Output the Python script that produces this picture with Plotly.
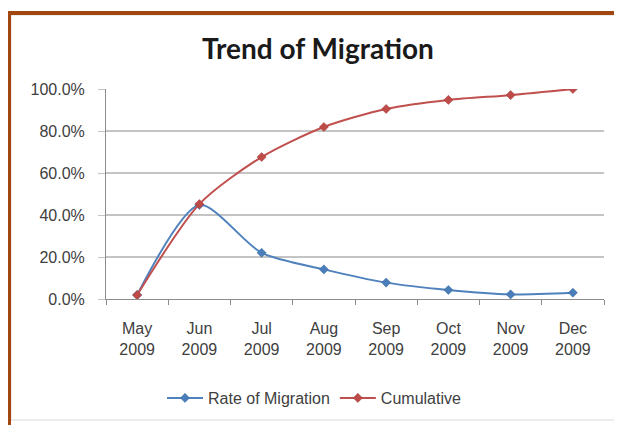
import plotly.graph_objects as go

months = ["May<br>2009", "Jun<br>2009", "Jul<br>2009", "Aug<br>2009",
          "Sep<br>2009", "Oct<br>2009", "Nov<br>2009", "Dec<br>2009"]
rate = [0.019, 0.448, 0.220, 0.141, 0.078, 0.043, 0.022, 0.030]
cumulative = [0.019, 0.452, 0.676, 0.819, 0.905, 0.948, 0.971, 1.000]
y_ticks = [0, 0.2, 0.4, 0.6, 0.8, 1.0]

# page body has an 8px margin, so the figure is shifted by OFF
OFF = 8
W, H = 622 - OFF, 425 - OFF
L, R, T, B = 106 - OFF, 604 - OFF, 89 - OFF, 299 - OFF


def px(x):
    return (x - OFF - L) / (R - L)


def py(y):
    return (B - (y - OFF)) / (B - T)


fig = go.Figure()
fig.add_trace(go.Scatter(
    x=months, y=rate, name="Rate of Migration", mode="lines+markers",
    line=dict(color="#4F81BD", width=2, shape="spline", smoothing=0.75),
    marker=dict(symbol="diamond", size=7, color="#4A7EBB",
                line=dict(color="#3A659A", width=0.5)),
))
fig.add_trace(go.Scatter(
    x=months, y=cumulative, name="Cumulative", mode="lines+markers",
    line=dict(color="#C0504D", width=2, shape="spline", smoothing=0.75),
    marker=dict(symbol="diamond", size=7, color="#BE4B48",
                line=dict(color="#9C3D3A", width=0.5)),
))

fig.update_layout(
    width=W, height=H,
    margin=dict(l=L, r=W - R, t=T, b=H - B, autoexpand=False),
    paper_bgcolor="white", plot_bgcolor="white",
    font=dict(family="Liberation Sans, Arial, sans-serif", size=16, color="#404040"),
    title=dict(text="<b>Trend of Migration</b>", xref="container",
               x=(318 - OFF) / W, xanchor="center",
               yref="container", y=1 - (49 - OFF) / H, yanchor="middle",
               font=dict(family="Lato, Open Sans, sans-serif", size=28, color="#1a1a1a")),
    showlegend=True,
    legend=dict(orientation="h", x=px(314), xanchor="center", y=py(398), yanchor="middle",
                font=dict(size=16, color="#404040"), itemwidth=36,
                bgcolor="rgba(0,0,0,0)"),
    xaxis=dict(type="category", showgrid=False, showline=True, linecolor="#8c8c8c",
               linewidth=1, ticks="outside", ticklen=5, tickcolor="#8c8c8c",
               tickson="boundaries", ticklabelstandoff=15, zeroline=False,
               range=[-0.5, 7.5]),
    yaxis=dict(range=[0, 1.0], tickvals=y_ticks, tickformat=".1%",
               showgrid=True, gridcolor="#c4c4c4", gridwidth=1.6,
               showline=True, linecolor="#8c8c8c", linewidth=1,
               ticks="outside", ticklen=7, tickcolor="#c4c4c4",
               ticklabelstandoff=10, zeroline=False),
    shapes=[
        dict(type="rect", xref="paper", yref="paper",
             x0=px(11), x1=px(620), y0=py(420), y1=py(15),
             line=dict(color="#d9d9d9", width=1), layer="below"),
        dict(type="line", xref="paper", yref="paper",
             x0=px(9), x1=px(9), y0=py(13), y1=py(440),
             line=dict(color="#A0460E", width=4)),
        dict(type="line", xref="paper", yref="paper",
             x0=px(7), x1=px(640), y0=py(13), y1=py(13),
             line=dict(color="#A0460E", width=4)),
    ],
)

fig.write_html("out.html")
